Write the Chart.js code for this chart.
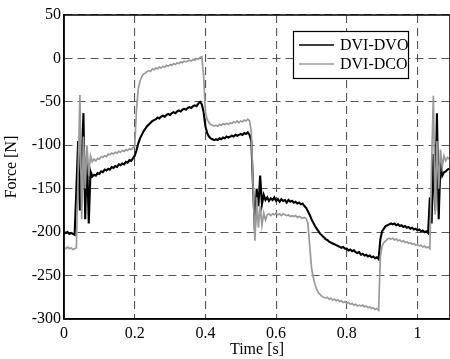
<!DOCTYPE html>
<html>
<head>
<meta charset="utf-8">
<script src="https://cdn.jsdelivr.net/npm/chart.js@4"></script>
<style>
  html, body { margin: 0; padding: 0; background: #fff; }
  #wrap { width: 450px; height: 359px; }
</style>
</head>
<body>
<div id="wrap"><canvas id="c" width="450" height="359"></canvas></div>
<script>
// ---- data ----
const time = [
  0, 0.005, 0.01, 0.015, 0.02, 0.025, 0.03, 0.035, 0.04, 0.045,
  0.05, 0.055, 0.06, 0.065, 0.07, 0.075, 0.08, 0.085, 0.09, 0.095,
  0.1, 0.105, 0.11, 0.115, 0.12, 0.125, 0.13, 0.135, 0.14, 0.145,
  0.15, 0.155, 0.16, 0.165, 0.17, 0.175, 0.18, 0.185, 0.19, 0.195,
  0.2, 0.205, 0.21, 0.215, 0.22, 0.225, 0.23, 0.235, 0.24, 0.245,
  0.25, 0.255, 0.26, 0.265, 0.27, 0.275, 0.28, 0.285, 0.29, 0.295,
  0.3, 0.305, 0.31, 0.315, 0.32, 0.325, 0.33, 0.335, 0.34, 0.345,
  0.35, 0.355, 0.36, 0.365, 0.37, 0.375, 0.38, 0.385, 0.39, 0.395,
  0.4, 0.405, 0.41, 0.415, 0.42, 0.425, 0.43, 0.435, 0.44, 0.445,
  0.45, 0.455, 0.46, 0.465, 0.47, 0.475, 0.48, 0.485, 0.49, 0.495,
  0.5, 0.505, 0.51, 0.515, 0.52, 0.525, 0.53, 0.535, 0.54, 0.545,
  0.55, 0.555, 0.56, 0.565, 0.57, 0.575, 0.58, 0.585, 0.59, 0.595,
  0.6, 0.605, 0.61, 0.615, 0.62, 0.625, 0.63, 0.635, 0.64, 0.645,
  0.65, 0.655, 0.66, 0.665, 0.67, 0.675, 0.68, 0.685, 0.69, 0.695,
  0.7, 0.705, 0.71, 0.715, 0.72, 0.725, 0.73, 0.735, 0.74, 0.745,
  0.75, 0.755, 0.76, 0.765, 0.77, 0.775, 0.78, 0.785, 0.79, 0.795,
  0.8, 0.805, 0.81, 0.815, 0.82, 0.825, 0.83, 0.835, 0.84, 0.845,
  0.85, 0.855, 0.86, 0.865, 0.87, 0.875, 0.88, 0.885, 0.89, 0.895,
  0.9, 0.905, 0.91, 0.915, 0.92, 0.925, 0.93, 0.935, 0.94, 0.945,
  0.95, 0.955, 0.96, 0.965, 0.97, 0.975, 0.98, 0.985, 0.99, 0.995,
  1.0, 1.005, 1.01, 1.015, 1.02, 1.025, 1.03, 1.035, 1.04, 1.045,
  1.05, 1.055, 1.06, 1.065, 1.07, 1.075, 1.08, 1.085, 1.09
];

const dviDvo = [
  -200,-201,-200,-202,-201,-202,-203,-150,-95,-175,
  -120,-63,-185,-110,-190,-130,-136,-134,-135,-132,
  -133,-130,-131,-128,-129,-127,-128,-125,-126,-124,
  -125,-122,-123,-121,-122,-119,-120,-117,-118,-115,
  -112,-106,-98,-92,-88,-84,-81,-78,-76,-74,
  -72,-71,-70,-68,-69,-67,-66,-67,-65,-64,
  -65,-63,-62,-63,-61,-60,-61,-59,-58,-59,
  -57,-56,-57,-55,-54,-55,-52,-50,-53,-62,
  -78,-86,-90,-92,-93,-94,-93,-94,-92,-93,
  -91,-92,-90,-91,-90,-89,-90,-88,-89,-88,
  -87,-88,-86,-87,-85,-88,-95,-150,-198,-150,
  -170,-135,-168,-157,-163,-160,-164,-161,-163,-160,
  -164,-162,-165,-162,-164,-163,-166,-163,-165,-164,
  -166,-165,-167,-166,-168,-167,-170,-172,-176,-180,
  -185,-189,-193,-196,-199,-202,-204,-206,-208,-209,
  -211,-212,-213,-214,-215,-216,-217,-218,-217,-219,
  -219,-221,-220,-222,-221,-223,-224,-223,-226,-225,
  -227,-226,-228,-227,-229,-228,-230,-229,-231,-208,
  -199,-196,-193,-192,-191,-190,-191,-190,-192,-191,
  -193,-192,-194,-193,-195,-194,-196,-195,-197,-196,
  -198,-197,-199,-198,-200,-199,-201,-160,-190,-110,
  -175,-63,-185,-120,-135,-131,-130,-128,-127
];

const dviDco = [
  -218,-219,-217,-219,-218,-220,-219,-218,-130,-42,
  -185,-90,-150,-100,-135,-112,-119,-116,-118,-115,
  -116,-113,-114,-112,-113,-110,-111,-109,-110,-108,
  -109,-107,-108,-106,-107,-105,-106,-104,-105,-103,
  -101,-60,-35,-26,-21,-18,-17,-15,-14,-15,
  -12,-13,-11,-12,-10,-11,-9,-10,-8,-9,
  -7,-8,-6,-7,-5,-6,-4,-5,-3,-4,
  -3,-2,-3,-1,-2,0,-1,1,2,-20,
  -62,-70,-74,-76,-77,-78,-77,-78,-76,-77,
  -75,-76,-75,-76,-74,-75,-73,-74,-72,-74,
  -72,-73,-71,-72,-70,-72,-85,-150,-210,-160,
  -195,-170,-192,-178,-186,-180,-179,-181,-179,-180,
  -178,-180,-179,-181,-179,-180,-181,-180,-182,-181,
  -182,-181,-183,-182,-183,-184,-183,-184,-190,-215,
  -240,-252,-260,-266,-270,-272,-274,-275,-276,-275,
  -277,-276,-278,-277,-279,-278,-280,-279,-281,-280,
  -282,-281,-283,-282,-284,-283,-285,-284,-285,-284,
  -286,-285,-287,-286,-288,-287,-289,-288,-290,-228,
  -216,-212,-210,-208,-207,-208,-207,-209,-208,-210,
  -209,-211,-210,-212,-211,-213,-212,-214,-213,-215,
  -214,-216,-215,-217,-216,-218,-217,-219,-120,-43,
  -180,-95,-150,-105,-125,-112,-118,-114,-116
];

const seriesNames = ['DVI-DVO', 'DVI-DCO'];
const xTicks = [0, 0.2, 0.4, 0.6, 0.8, 1];
const yTicks = [-300, -250, -200, -150, -100, -50, 0, 50];

// ---- rendering ----
const FONT = 'Liberation Serif, Times New Roman, serif';

const pts = (vals) => vals.map((v, i) => ({ x: time[i], y: v }));

const bgPlugin = {
  id: 'bg',
  beforeDraw(chart) {
    const ctx = chart.ctx;
    ctx.save();
    ctx.fillStyle = '#fff';
    ctx.fillRect(0, 0, chart.width, chart.height);
    ctx.restore();
  }
};

const framePlugin = {
  id: 'frame',
  afterDraw(chart) {
    const { ctx, chartArea: a } = chart;
    ctx.save();
    ctx.strokeStyle = '#000';
    ctx.lineWidth = 1.5;
    ctx.strokeRect(a.left, a.top, a.right - a.left, a.bottom - a.top);
    ctx.restore();
  }
};

const legendPlugin = {
  id: 'boxLegend',
  afterDraw(chart) {
    const { ctx, chartArea: a } = chart;
    const x0 = a.left + 229, y0 = a.top + 16, w = 115, h = 47;
    ctx.save();
    ctx.fillStyle = '#fff';
    ctx.fillRect(x0, y0, w, h);
    ctx.strokeStyle = '#000';
    ctx.lineWidth = 1.2;
    ctx.strokeRect(x0 + 0.5, y0 + 0.5, w, h);
    chart.data.datasets.forEach((ds, i) => {
      const y = y0 + 14 + i * 19;
      ctx.strokeStyle = ds.borderColor;
      ctx.lineWidth = 1.6;
      ctx.beginPath();
      ctx.moveTo(x0 + 6, y);
      ctx.lineTo(x0 + 41, y);
      ctx.stroke();
      ctx.fillStyle = '#000';
      ctx.font = '16px ' + FONT;
      ctx.textBaseline = 'middle';
      ctx.textAlign = 'left';
      ctx.fillText(ds.label, x0 + 47, y + 1);
    });
    ctx.restore();
  }
};

new Chart(document.getElementById('c'), {
  type: 'line',
  data: {
    datasets: [
      { label: seriesNames[0], data: pts(dviDvo), borderColor: '#000000', borderWidth: 2.1, order: 2 },
      { label: seriesNames[1], data: pts(dviDco), borderColor: '#9a9a9a', borderWidth: 1.7, order: 1 }
    ]
  },
  options: {
    responsive: false,
    animation: false,
    events: [],
    layout: { padding: { top: 15, right: 0, left: 0, bottom: 0 } },
    elements: { point: { radius: 0 }, line: { tension: 0, borderJoinStyle: 'miter' } },
    plugins: { legend: { display: false }, tooltip: { enabled: false } },
    scales: {
      x: {
        type: 'linear',
        min: 0,
        max: 1.092,
        afterBuildTicks(s) { s.ticks = xTicks.map(v => ({ value: v })); },
        afterFit(s) { s.height = 40; },
        grid: { color: '#555', lineWidth: 1.1, drawTicks: false, tickLength: 0 },
        border: { display: true, color: '#000', width: 1.5, dash: [8, 5] },
        ticks: {
          color: '#000', font: { family: FONT, size: 16 }, padding: 5, maxRotation: 0,
          callback: (v) => String(v)
        },
        title: {
          display: true, text: 'Time [s]', color: '#000',
          font: { family: FONT, size: 16 }, padding: { top: 0, bottom: 0 }
        }
      },
      y: {
        type: 'linear',
        min: -300,
        max: 50,
        afterBuildTicks(s) { s.ticks = yTicks.map(v => ({ value: v })); },
        afterFit(s) { s.width = 64; },
        grid: { color: '#555', lineWidth: 1.1, drawTicks: false, tickLength: 0 },
        border: { display: true, color: '#000', width: 1.5, dash: [8, 5] },
        ticks: {
          color: '#000', font: { family: FONT, size: 16 }, padding: 3,
          callback: (v) => String(v)
        },
        title: {
          display: true, text: 'Force [N]', color: '#000',
          font: { family: FONT, size: 16 }, padding: { top: 2, bottom: 0 }
        }
      }
    }
  },
  plugins: [bgPlugin, framePlugin, legendPlugin]
});
</script>
</body>
</html>
